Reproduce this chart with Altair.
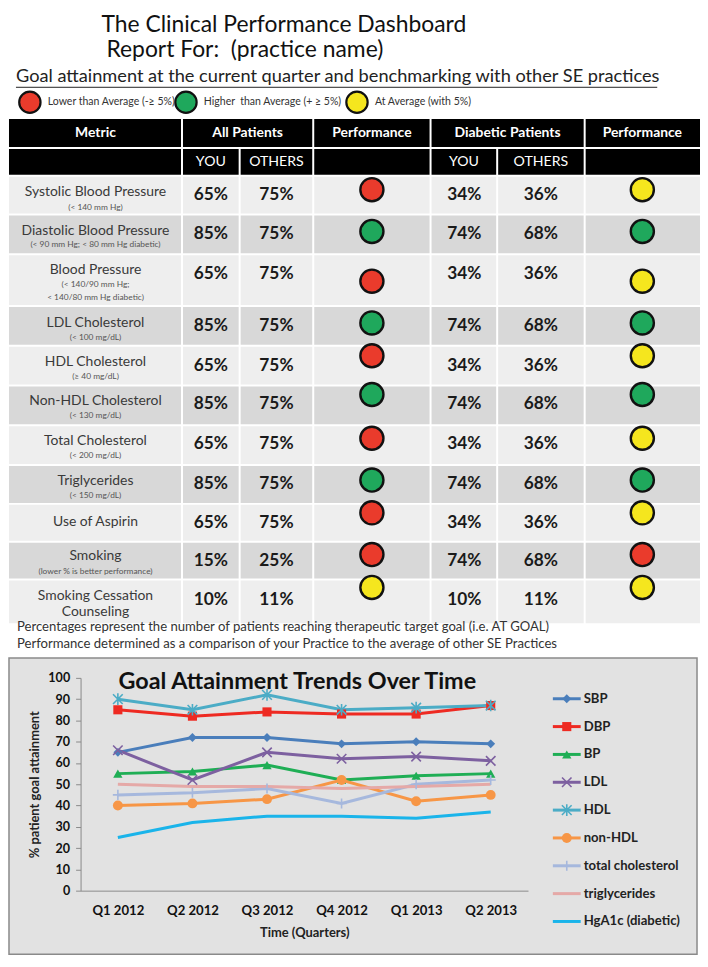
import altair as alt
import pandas as pd

# ---------------- data ----------------
metrics = ["Systolic Blood Pressure", "Diastolic Blood Pressure", "Blood Pressure",
           "LDL Cholesterol", "HDL Cholesterol", "Non-HDL Cholesterol",
           "Total Cholesterol", "Triglycerides", "Use of Aspirin", "Smoking",
           "Smoking Cessation"]
metric_line2 = ["", "", "", "", "", "", "", "", "", "", "Counseling"]
metric_notes = [["(< 140 mm Hg)"], ["(< 90 mm Hg; < 80 mm Hg diabetic)"],
                ["(< 140/90 mm Hg;", "< 140/80 mm Hg diabetic)"], ["(< 100 mg/dL)"],
                ["(≥ 40 mg/dL)"], ["(< 130 mg/dL)"], ["(< 200 mg/dL)"], ["(< 150 mg/dL)"],
                [], ["(lower % is better performance)"], []]
all_you = [65, 85, 65, 85, 65, 85, 65, 85, 65, 15, 10]
all_others = [75, 75, 75, 75, 75, 75, 75, 75, 75, 25, 11]
all_perf = ["low", "high", "low", "high", "low", "high", "low", "high", "low", "low", "avg"]
diab_you = [34, 74, 34, 74, 34, 74, 34, 74, 34, 74, 10]
diab_others = [36, 68, 36, 68, 36, 68, 36, 68, 36, 68, 11]
diab_perf = ["avg", "high", "avg", "high", "avg", "high", "avg", "high", "avg", "low", "avg"]

status_keys = ["low", "high", "avg"]
status_labels = ["Lower than Average (-≥ 5%)", "Higher\u00a0 than Average (+ ≥ 5%)", "At Average (with 5%)"]

titles = ["The Clinical Performance Dashboard", "Report For:\u00a0 (practice name)"]
subtitle_text = "Goal attainment at the current quarter and benchmarking with other SE practices"
header1 = ["Metric", "All Patients", "Performance", "Diabetic Patients", "Performance"]
header2 = ["", "YOU", "OTHERS", "", "YOU", "OTHERS", ""]
footnotes = ["Percentages represent the number of patients reaching therapeutic target goal (i.e. AT GOAL)",
             "Performance determined as a comparison of your Practice to the average of other SE Practices"]

quarters = ["Q1 2012", "Q2 2012", "Q3 2012", "Q4 2012", "Q1 2013", "Q2 2013"]
series_names = ["SBP", "DBP", "BP", "LDL", "HDL", "non-HDL", "total cholesterol",
                "triglycerides", "HgA1c (diabetic)"]
sbp = [65, 72, 72, 69, 70, 69]
dbp = [85, 82, 84, 83, 83, 87]
bp = [55, 56, 59, 52, 54, 55]
ldl = [66, 52, 65, 62, 63, 61]
hdl = [90, 85, 92, 85, 86, 87]
non_hdl = [40, 41, 43, 52, 42, 45]
total_chol = [45, 46, 48, 41, 50, 52]
trig = [50, 49, 49, 48, 49, 50]
hga1c = [25, 32, 35, 35, 34, 37]
series_values = [sbp, dbp, bp, ldl, hdl, non_hdl, total_chol, trig, hga1c]

# ---------------- styles / layout ----------------
FONT = "Lato"
status_colors = {"low": "#ea3b2c", "high": "#1fa85c", "avg": "#f5e61e"}
series_colors = ["#4a7ebb", "#ee2a22", "#1fae55", "#7d60a0", "#4bacc6", "#f79646",
                 "#a6b8dd", "#e5a9a7", "#1ab4ea"]
series_shapes = ["diamond", "square", "triangle-up", "M-1,-1L1,1M-1,1L1,-1",
                 "M-1,-1L1,1M-1,1L1,-1M0,-1.2L0,1.2", "circle", "M-1,0L1,0M0,-1L0,1",
                 "M-1,0L1,0", "M-1,0L1,0"]
series_sizes = [80, 110, 90, 100, 110, 100, 80, 60, 60]
filled_series = ["SBP", "DBP", "BP", "non-HDL"]
stroked_series = ["LDL", "HDL", "total cholesterol"]

# page-coordinate layout of the dashboard (plot group origin sits at page x=80, y=8)
ORIGIN_X, ORIGIN_Y = 80, 8
PLOT_W, PLOT_H = 450, 885
PAGE_X = [8, 703]
PAGE_Y = [8, 957]
COL_EDGES = [8, 182, 240, 314, 432, 499, 587, 703]
HEAD_ROWS = [(117, 145), (147, 173)]
ROW_EDGES = [174, 213, 253, 305, 345, 385, 425, 465, 504, 542, 580, 625]
LABEL_Y = [190, 230, 269, 322, 361, 401, 441, 481, 522, 556, 597]
NOTE_Y = [[205], [243], [283, 296], [336], [375], [415], [455], [495], [], [572], []]
LINE2_Y = 613
VALUE_Y = [193, 233, 273, 325, 365, 404, 444, 484, 523, 561, 601]
DOT_Y = [188, 230, 280, 322, 355, 394, 438, 480, 513, 555, 588]
VALUE_X = [211, 277, 466, 543]
DOT_X = [373, 645]
ROW_FILLS = ["#eeeeee", "#d8d8d8"]
PANEL = (8, 700, 659, 957)
TREND_Y_PAGE = (893, 679)       # y pixel of 0 and of 100
LEGEND_Y_PAGE = (700, 924)

XS = alt.Scale(domain=PAGE_X, range=[PAGE_X[0] - ORIGIN_X, PAGE_X[1] - ORIGIN_X], nice=False, zero=False)
YS = alt.Scale(domain=PAGE_Y, range=[PAGE_Y[0] - ORIGIN_Y, PAGE_Y[1] - ORIGIN_Y], nice=False, zero=False)


def pos(xf="x", yf="y"):
    return dict(x=alt.X(f"{xf}:Q", scale=XS, axis=None), y=alt.Y(f"{yf}:Q", scale=YS, axis=None))


def text_layer(rows, **mk):
    df = pd.DataFrame(rows, columns=["x", "y", "t"])
    return alt.Chart(df).mark_text(font=FONT, **mk).encode(**pos(), text="t:N")


# ---- header area ----
title_l = text_layer([(101, 22, titles[0]), (106, 48, titles[1])],
                     fontSize=23, align="left", baseline="middle", color="#111")
subtitle = text_layer([(15, 75, subtitle_text)],
                      fontSize=18.3, align="left", baseline="middle", color="#222")
underline = alt.Chart(pd.DataFrame({"x": [15], "x2": [660], "y": [85]})).mark_rule(
    color="#222", strokeWidth=1).encode(**pos(), x2="x2:Q")

key_x = [29, 186, 358]
key_df = pd.DataFrame({"x": key_x, "y": [100] * 3, "fill": [status_colors[k] for k in status_keys]})
key_dots = alt.Chart(key_df).mark_circle(size=460, opacity=1, stroke="#111", strokeWidth=2.2).encode(
    **pos(), color=alt.Color("fill:N", scale=None))
key_text = text_layer([(kx + 18, 100, lab) for kx, lab in zip(key_x, status_labels)],
                      fontSize=10.6, align="left", baseline="middle", color="#333")

# ---- table cells ----
cells = []
h1_spans = [(COL_EDGES[0], COL_EDGES[1]), (COL_EDGES[1], COL_EDGES[3]), (COL_EDGES[3], COL_EDGES[4]),
            (COL_EDGES[4], COL_EDGES[6]), (COL_EDGES[6], COL_EDGES[7])]
for (a, b) in h1_spans:
    cells.append({"x1": a + (0 if a == COL_EDGES[0] else 1), "x2": b - (0 if b == COL_EDGES[-1] else 1),
                  "y1": HEAD_ROWS[0][0], "y2": HEAD_ROWS[0][1], "fill": "#000000"})
for j in range(7):
    a, b = COL_EDGES[j], COL_EDGES[j + 1]
    cells.append({"x1": a + (0 if j == 0 else 1), "x2": b - (0 if j == 6 else 1),
                  "y1": HEAD_ROWS[1][0], "y2": HEAD_ROWS[1][1], "fill": "#000000"})
for i in range(len(metrics)):
    for j in range(7):
        a, b = COL_EDGES[j], COL_EDGES[j + 1]
        cells.append({"x1": a + (0 if j == 0 else 1), "x2": b - (0 if j == 6 else 1),
                      "y1": ROW_EDGES[i] + 1, "y2": ROW_EDGES[i + 1] - 1,
                      "fill": ROW_FILLS[i % 2]})
cells_df = pd.DataFrame(cells)
cell_layer = alt.Chart(cells_df).mark_rect().encode(
    x=alt.X("x1:Q", scale=XS, axis=None), x2="x2:Q",
    y=alt.Y("y1:Q", scale=YS, axis=None), y2="y2:Q",
    color=alt.Color("fill:N", scale=None))

h1_text = text_layer([((a + b) / 2, 131, t) for (a, b), t in zip(h1_spans, header1)],
                     fontSize=14, fontWeight="bold", color="white", baseline="middle")
h2_text = text_layer([((COL_EDGES[j] + COL_EDGES[j + 1]) / 2, 160, t) for j, t in enumerate(header2) if t],
                     fontSize=14.2, color="white", baseline="middle")

mcx = (COL_EDGES[0] + COL_EDGES[1]) / 2
main_rows = [(mcx, LABEL_Y[i], m) for i, m in enumerate(metrics)]
main_rows += [(mcx, LINE2_Y, l2) for l2 in metric_line2 if l2]
main_text = text_layer(main_rows, fontSize=14, color="#3a3a3a", baseline="middle")
note_rows = []
for i, notes in enumerate(metric_notes):
    for n, ny in zip(notes, NOTE_Y[i]):
        note_rows.append((mcx, ny, n))
note_text = text_layer(note_rows, fontSize=8.4, color="#555", baseline="middle")

val_rows = []
for i in range(len(metrics)):
    for vx, v in zip(VALUE_X, [all_you[i], all_others[i], diab_you[i], diab_others[i]]):
        val_rows.append((vx, VALUE_Y[i], f"{v}%"))
val_text = text_layer(val_rows, fontSize=17.4, fontWeight="bold", color="#1a1a1a", baseline="middle")

dots_df = pd.DataFrame(
    [{"x": DOT_X[0], "y": DOT_Y[i], "fill": status_colors[all_perf[i]]} for i in range(len(metrics))] +
    [{"x": DOT_X[1], "y": DOT_Y[i], "fill": status_colors[diab_perf[i]]} for i in range(len(metrics))])
dots = alt.Chart(dots_df).mark_circle(size=540, opacity=1, stroke="#111", strokeWidth=2.4).encode(
    **pos(), color=alt.Color("fill:N", scale=None))

foot = text_layer([(16, 628, footnotes[0]), (16, 645, footnotes[1])],
                  fontSize=13.2, align="left", baseline="middle", color="#333")

panel = alt.Chart(pd.DataFrame({"x": [PANEL[0]], "x2": [PANEL[1]], "y": [PANEL[2]], "y2": [PANEL[3]]})).mark_rect(
    fill="#e2e2e2", stroke="#8a8a8a", strokeWidth=1.5).encode(**pos(), x2="x2:Q", y2="y2:Q")

dashboard = alt.layer(title_l, subtitle, underline, key_dots, key_text, cell_layer, h1_text, h2_text,
                      main_text, note_text, val_text, dots, foot, panel)

# ---------------- trend chart ----------------
rows = []
for s, vals in zip(series_names, series_values):
    for q, v in zip(quarters, vals):
        rows.append({"series": s, "quarter": q, "value": v})
trend = pd.DataFrame(rows)

color_scale = alt.Scale(domain=series_names, range=series_colors)
shape_scale = alt.Scale(domain=series_names, range=series_shapes)
size_scale = alt.Scale(domain=series_names, range=series_sizes)

axis_common = dict(zindex=1, grid=False, domainColor="#8a8a8a", tickColor="#8a8a8a",
                   labelFont=FONT, titleFont=FONT, labelFontWeight="bold", titleFontWeight="bold",
                   labelColor="#111", titleColor="#222")
XQ = alt.X("quarter:N", sort=quarters,
           scale=alt.Scale(type="point", domain=quarters, padding=0.5),
           axis=alt.Axis(title="Time (Quarters)", labelAngle=0, labelFontSize=13.2, titleFontSize=13,
                         ticks=False, labelPadding=14, titlePadding=10, **axis_common))
YV = alt.Y("value:Q",
           scale=alt.Scale(domain=[0, 100], nice=False,
                           range=[TREND_Y_PAGE[0] - ORIGIN_Y, TREND_Y_PAGE[1] - ORIGIN_Y]),
           axis=alt.Axis(title="% patient goal attainment", values=list(range(0, 101, 10)),
                         labelFontSize=12.6, titleFontSize=13, tickSize=5, labelPadding=6,
                         titlePadding=6, **axis_common))

base = alt.Chart(trend)
lines = base.mark_line(strokeWidth=3).encode(
    x=XQ, y=YV, color=alt.Color("series:N", scale=color_scale, legend=None))
pts_filled = base.transform_filter(alt.FieldOneOfPredicate(field="series", oneOf=filled_series)).mark_point(
    filled=True, opacity=1).encode(
    x=XQ, y=YV, color=alt.Color("series:N", scale=color_scale, legend=None),
    shape=alt.Shape("series:N", scale=shape_scale, legend=None),
    size=alt.Size("series:N", scale=size_scale, legend=None))
pts_stroked = base.transform_filter(alt.FieldOneOfPredicate(field="series", oneOf=stroked_series)).mark_point(
    filled=False, opacity=1, strokeWidth=1.6).encode(
    x=XQ, y=YV, color=alt.Color("series:N", scale=color_scale, legend=None),
    shape=alt.Shape("series:N", scale=shape_scale, legend=None),
    size=alt.Size("series:N", scale=size_scale, legend=None))
plot_layer = alt.layer(lines, pts_filled, pts_stroked)

chart_title = text_layer([(298, 683, "Goal Attainment Trends Over Time")],
                         fontSize=23.5, fontWeight="bold", color="#111", baseline="middle")

# custom legend (own ordinal y scale)
leg_df = pd.DataFrame({"series": series_names})
LY = alt.Y("series:N", scale=alt.Scale(type="point", domain=series_names, padding=0,
                                        range=[LEGEND_Y_PAGE[0] - ORIGIN_Y, LEGEND_Y_PAGE[1] - ORIGIN_Y]),
           axis=None)
leg_base = alt.Chart(leg_df)
leg_lines = leg_base.mark_rule(strokeWidth=3).encode(
    x=alt.value(555 - ORIGIN_X), x2=alt.value(583 - ORIGIN_X), y=LY,
    color=alt.Color("series:N", scale=color_scale, legend=None))
leg_f = leg_base.transform_filter(alt.FieldOneOfPredicate(field="series", oneOf=filled_series)).mark_point(
    filled=True, opacity=1).encode(
    x=alt.value(569 - ORIGIN_X), y=LY, color=alt.Color("series:N", scale=color_scale, legend=None),
    shape=alt.Shape("series:N", scale=shape_scale, legend=None),
    size=alt.Size("series:N", scale=size_scale, legend=None))
leg_s = leg_base.transform_filter(alt.FieldOneOfPredicate(field="series", oneOf=stroked_series)).mark_point(
    filled=False, opacity=1, strokeWidth=1.6).encode(
    x=alt.value(569 - ORIGIN_X), y=LY, color=alt.Color("series:N", scale=color_scale, legend=None),
    shape=alt.Shape("series:N", scale=shape_scale, legend=None),
    size=alt.Size("series:N", scale=size_scale, legend=None))
leg_text = leg_base.mark_text(font=FONT, fontSize=13.2, fontWeight="bold", align="left",
                              baseline="middle", color="#222").encode(
    x=alt.value(586 - ORIGIN_X), y=LY, text="series:N")
legend_layer = alt.layer(leg_lines, leg_f, leg_s, leg_text)

chart = alt.layer(dashboard, plot_layer, chart_title, legend_layer).resolve_scale(
    x="independent", y="independent").properties(
    width=PLOT_W, height=PLOT_H, padding=0, background="white").configure(
    font=FONT).configure_view(strokeWidth=0, stroke="transparent")

chart.save("out.html", embed_options={"renderer": "svg", "actions": False})
